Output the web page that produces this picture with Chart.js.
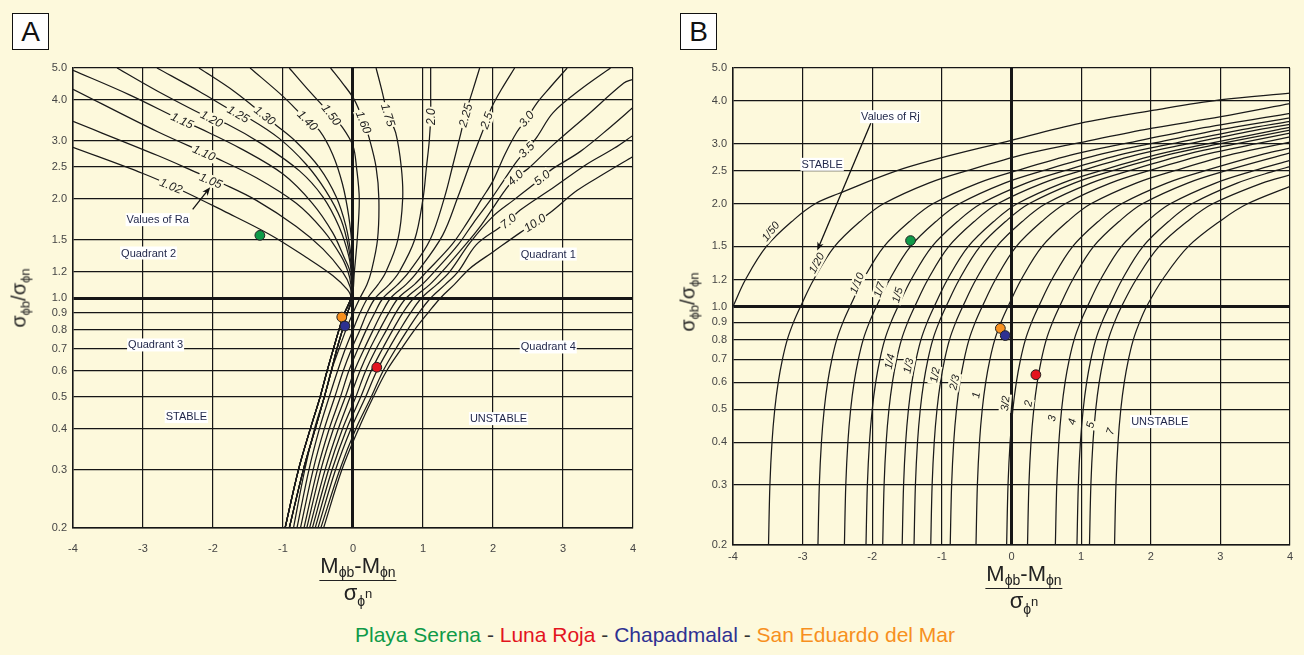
<!DOCTYPE html>
<html><head><meta charset="utf-8">
<script src="https://cdn.jsdelivr.net/npm/chart.js@4.4.0/dist/chart.umd.min.js"></script>
<style>
html,body{margin:0;padding:0;background:#fdf9dc;}
body{width:1304px;height:655px;position:relative;overflow:hidden;font-family:"Liberation Sans",Arial,sans-serif;color:#222;}
.wrap{position:absolute;}
#wrapA{left:0;top:0;width:650px;height:600px;}
#wrapB{left:660px;top:0;width:644px;height:620px;}
.tag{position:absolute;width:35px;height:35px;background:#fff;border:1.5px solid #111;font-size:28px;line-height:36px;text-align:center;color:#111;}
.ytitle{position:absolute;transform:translate(-50%,-50%) rotate(-90deg);font-size:20px;white-space:nowrap;color:#222;}
.ytitle sub{font-size:13px;vertical-align:-4px;}
.frac{position:absolute;transform:translateX(-50%);text-align:center;font-size:22px;line-height:24px;color:#222;white-space:nowrap;}
.frac .num{display:inline-block;border-bottom:1.5px solid #222;padding:0 1px 2px 1px;}
.frac .num sub{font-size:14px;vertical-align:-4px;line-height:0;}
.frac .den sub{font-size:14px;vertical-align:-6px;line-height:0;}
.frac .den sup{font-size:13px;vertical-align:2px;line-height:0;}
#legend{position:absolute;left:0;width:1310px;top:623px;text-align:center;font-size:21px;white-space:nowrap;}
</style>
</head><body>
<div class="wrap" id="wrapA"><canvas id="cA" width="650" height="600"></canvas></div>
<div class="wrap" id="wrapB"><canvas id="cB" width="644" height="620"></canvas></div>
<div class="tag" style="left:12px;top:13px;">A</div>
<div class="tag" style="left:680px;top:13px;">B</div>
<div class="ytitle" style="left:20px;top:298px;">σ<sub>ϕb</sub>/σ<sub>ϕn</sub></div>
<div class="ytitle" style="left:689px;top:302px;">σ<sub>ϕb</sub>/σ<sub>ϕn</sub></div>
<div class="frac" style="left:358px;top:554px;"><div class="num">M<sub>ϕb</sub>-M<sub>ϕn</sub></div><div class="den">σ<sub>ϕ</sub><sup>n</sup></div></div>
<div class="frac" style="left:1024px;top:562px;"><div class="num">M<sub>ϕb</sub>-M<sub>ϕn</sub></div><div class="den">σ<sub>ϕ</sub><sup>n</sup></div></div>
<div id="legend"><span style="color:#0f9a48">Playa Serena</span><span style="color:#333"> - </span><span style="color:#e3141e">Luna Roja</span><span style="color:#333"> - </span><span style="color:#2e3192">Chapadmalal</span><span style="color:#333"> - </span><span style="color:#f7901e">San Eduardo del Mar</span></div>
<script>
// ---------- shared axis values ----------
const xTickValues = [-4,-3,-2,-1,0,1,2,3,4];
const yTickValues = [0.2,0.3,0.4,0.5,0.6,0.7,0.8,0.9,1.0,1.2,1.5,2.0,2.5,3.0,4.0,5.0];

// ---------- sample sites ----------
const siteNames = ['Playa Serena','Luna Roja','Chapadmalal','San Eduardo del Mar'];
const siteColors = ['#0f9a48','#e3141e','#2e3192','#f7901e'];
const sitesA = [[-1.33,1.55],[0.34,0.616],[-0.115,0.822],[-0.16,0.875]];
const sitesB = [[-1.45,1.56],[0.35,0.631],[-0.09,0.822],[-0.16,0.863]];

// ---------- Panel A : curves of Ra ----------
const raNames = ['1.02','1.05','1.10','1.15','1.20','1.25','1.30','1.40','1.50','1.60','1.75','2.0','2.25','2.5','3.0','3.5','4.0','5.0','7.0','10.0'];
const bundleLeftA = [[-0.97,0.2],[-0.78,0.3],[-0.61,0.4],[-0.47,0.5],[-0.37,0.6],[-0.28,0.7],[-0.2,0.8],[-0.12,0.9],[-0.03,1.0]];
const bundleLeftB = [[-0.91,0.2],[-0.71,0.3],[-0.54,0.4],[-0.41,0.5],[-0.31,0.6],[-0.23,0.7],[-0.15,0.8],[-0.08,0.9],[-0.01,1.0]];
const ra102 = [...bundleLeftA,[-0.08,1.06],[-0.29,1.17],[-0.67,1.33],[-1.19,1.56],[-1.85,1.84],[-2.46,2.13],[-3.0,2.39],[-4.0,2.87]];
const ra105 = [...bundleLeftA,[-0.04,1.08],[-0.15,1.2],[-0.43,1.41],[-0.81,1.65],[-1.38,1.98],[-1.85,2.22],[-2.18,2.38],[-2.79,2.71],[-4.0,3.44]];
const ra110 = [...bundleLeftA,[-0.03,1.1],[-0.07,1.2],[-0.17,1.34],[-0.43,1.61],[-0.81,1.94],[-1.38,2.32],[-1.95,2.66],[-2.79,3.2],[-4.0,4.31]];
const ra115 = [...bundleLeftA,[-0.02,1.12],[-0.05,1.22],[-0.12,1.32],[-0.29,1.58],[-0.58,1.94],[-1.0,2.38],[-1.61,2.85],[-2.18,3.27],[-2.44,3.46],[-3.2,4.15],[-4.0,4.92]];
const ra120 = [...bundleLeftA,[-0.02,1.15],[-0.06,1.34],[-0.2,1.65],[-0.43,2.03],[-0.76,2.43],[-1.28,2.92],[-1.8,3.38],[-2.02,3.5],[-2.79,4.25],[-3.37,5.0]];
const ra125 = [...bundleLeftB,[-0.01,1.15],[-0.06,1.41],[-0.17,1.73],[-0.39,2.12],[-0.67,2.55],[-1.05,3.05],[-1.47,3.5],[-1.64,3.62],[-2.2,4.25],[-2.8,5.0]];
const ra130 = [...bundleLeftB,[-0.01,1.18],[-0.03,1.36],[-0.1,1.65],[-0.24,2.03],[-0.48,2.49],[-0.81,2.98],[-1.12,3.38],[-1.26,3.58],[-1.7,4.25],[-2.2,5.0]];
const ra140 = [...bundleLeftB,[0.0,1.2],[-0.01,1.41],[-0.06,1.77],[-0.15,2.22],[-0.29,2.73],[-0.48,3.23],[-0.65,3.46],[-1.0,4.1],[-1.47,5.0]];
const ra150 = [...bundleLeftB,[0.02,1.2],[0.06,1.5],[0.09,2.0],[0.05,2.5],[0.0,2.9],[-0.15,3.3],[-0.31,3.6],[-0.6,4.2],[-0.91,5.0]];
const ra160 = [[-0.85,0.2],[-0.69,0.3],[-0.55,0.4],[-0.41,0.5],[-0.31,0.6],[-0.2,0.7],[-0.1,0.8],[0.0,0.9],[0.1,1.0],[0.2,1.1],[0.26,1.2],[0.35,1.5],[0.37,2.0],[0.33,2.5],[0.23,3.07],[0.16,3.4],[0.02,4.0],[-0.15,4.5],[-0.32,5.0]];
const ra175 = [[-0.8,0.2],[-0.63,0.3],[-0.48,0.4],[-0.34,0.5],[-0.22,0.6],[-0.11,0.7],[0.0,0.8],[0.1,0.9],[0.21,1.0],[0.36,1.1],[0.47,1.2],[0.64,1.5],[0.71,2.0],[0.69,2.5],[0.61,3.18],[0.5,3.6],[0.41,4.3],[0.33,5.0]];
const ra200 = [[-0.75,0.2],[-0.57,0.3],[-0.41,0.4],[-0.26,0.5],[-0.14,0.6],[-0.02,0.7],[0.1,0.8],[0.2,0.9],[0.32,1.0],[0.52,1.1],[0.66,1.2],[0.88,1.5],[1.0,2.0],[1.05,2.5],[1.09,3.0],[1.11,3.56],[1.11,4.2],[1.11,5.0]];
const ra225 = [[-0.7,0.2],[-0.51,0.3],[-0.34,0.4],[-0.18,0.5],[-0.06,0.6],[0.07,0.7],[0.19,0.8],[0.31,0.9],[0.43,1.0],[0.64,1.1],[0.8,1.2],[1.1,1.5],[1.31,2.03],[1.43,2.55],[1.54,3.16],[1.6,3.59],[1.7,4.2],[1.81,5.0]];
const ra250 = [[-0.66,0.2],[-0.46,0.3],[-0.28,0.4],[-0.11,0.5],[0.02,0.6],[0.16,0.7],[0.29,0.8],[0.41,0.9],[0.54,1.0],[0.76,1.1],[0.92,1.2],[1.28,1.55],[1.5,2.03],[1.67,2.55],[1.84,3.16],[1.91,3.46],[1.98,3.79],[2.12,4.3],[2.31,5.0]];
const ra300 = [[-0.62,0.2],[-0.4,0.3],[-0.21,0.4],[-0.04,0.5],[0.1,0.6],[0.24,0.7],[0.38,0.8],[0.51,0.9],[0.65,1.0],[0.88,1.1],[1.05,1.2],[1.41,1.45],[1.62,1.68],[1.84,2.0],[2.0,2.27],[2.17,2.73],[2.34,3.19],[2.48,3.5],[2.63,3.92],[2.83,4.4],[3.06,5.0]];
const ra350 = [[-0.58,0.2],[-0.35,0.3],[-0.15,0.4],[0.04,0.5],[0.18,0.6],[0.33,0.7],[0.48,0.8],[0.61,0.9],[0.76,1.0],[0.99,1.1],[1.16,1.2],[1.5,1.45],[1.72,1.69],[1.96,1.98],[2.15,2.27],[2.34,2.6],[2.48,2.82],[2.63,3.09],[2.86,3.66],[3.25,4.3],[3.68,5.0]];
const ra400 = [[-0.54,0.2],[-0.3,0.3],[-0.09,0.4],[0.11,0.5],[0.26,0.6],[0.42,0.7],[0.57,0.8],[0.71,0.9],[0.87,1.0],[1.1,1.1],[1.27,1.2],[1.58,1.43],[1.8,1.63],[2.03,1.92],[2.17,2.12],[2.32,2.32],[2.5,2.47],[2.86,2.92],[3.34,3.58],[3.87,4.5],[4.0,4.62]];
const ra500 = [[-0.5,0.2],[-0.25,0.3],[-0.03,0.4],[0.18,0.5],[0.34,0.6],[0.51,0.7],[0.67,0.8],[0.82,0.9],[0.98,1.0],[1.2,1.1],[1.38,1.2],[1.67,1.47],[2.0,1.77],[2.29,1.98],[2.53,2.17],[2.7,2.32],[2.84,2.46],[3.25,2.79],[3.68,3.31],[4.0,3.79]];
const ra700 = [[-0.46,0.2],[-0.19,0.3],[0.04,0.4],[0.26,0.5],[0.43,0.6],[0.61,0.7],[0.78,0.8],[0.94,0.9],[1.11,1.0],[1.32,1.1],[1.5,1.2],[1.76,1.45],[2.08,1.63],[2.22,1.71],[2.39,1.85],[2.87,2.17],[3.34,2.55],[3.73,2.85],[4.0,3.12]];
const ra1000 = [[-0.42,0.2],[-0.16,0.3],[0.08,0.4],[0.29,0.5],[0.48,0.6],[0.69,0.7],[0.88,0.8],[1.07,0.9],[1.25,1.0],[1.45,1.1],[1.67,1.23],[2.0,1.38],[2.39,1.58],[2.6,1.69],[2.82,1.82],[3.2,2.12],[3.58,2.38],[4.0,2.69]];
const raCurves = [ra102,ra105,ra110,ra115,ra120,ra125,ra130,ra140,ra150,ra160,ra175,ra200,ra225,ra250,ra300,ra350,ra400,ra500,ra700,ra1000];
// where each Ra value is written on its curve (data coords) and its slant
const raLabelAt = [[-2.6,2.19],[-2.03,2.27],[-2.13,2.76],[-2.44,3.46],[-2.02,3.5],[-1.64,3.62],[-1.26,3.58],[-0.65,3.46],[-0.31,3.6],[0.15,3.42],[0.5,3.6],[1.11,3.56],[1.61,3.59],[1.91,3.46],[2.48,3.5],[2.48,2.82],[2.32,2.32],[2.7,2.32],[2.22,1.71],[2.6,1.69]];
const raLabelTilt = [22,22,24,25,27,30,38,45,52,68,72,-90,-74,-70,-50,-45,-42,-38,-38,-33];

// ---------- Panel B : curves of Rj ----------
const rjNames = ['1/50','1/20','1/10','1/7','1/5','1/4','1/3','','1/2','2/3','1','3/2','2','3','4','5','7'];
const rj1_50 = [[-4.0,1.0],[-3.82,1.2],[-3.52,1.5],[-3.12,1.8],[-2.82,2.0],[-2.49,2.14],[-1.49,2.56],[0.0,3.07],[0.98,3.44],[2.05,3.76],[2.99,4.03],[4.0,4.22]];
const rj1_20 = [[-3.49,0.2],[-3.47,0.3],[-3.44,0.4],[-3.4,0.5],[-3.35,0.6],[-3.29,0.7],[-3.22,0.8],[-3.13,0.9],[-3.03,1.0],[-2.84,1.2],[-2.54,1.5],[-2.14,1.8],[-1.84,2.0],[-1.19,2.3],[-0.64,2.5],[0.21,2.8],[0.91,3.0],[1.91,3.3],[3.01,3.6],[4.0,3.93]];
const rj1_10 = [[-2.78,0.2],[-2.76,0.3],[-2.73,0.4],[-2.69,0.5],[-2.64,0.6],[-2.58,0.7],[-2.51,0.8],[-2.42,0.9],[-2.32,1.0],[-2.13,1.2],[-1.83,1.5],[-1.43,1.8],[-1.13,2.0],[-0.48,2.3],[0.07,2.5],[0.92,2.8],[1.62,3.0],[2.62,3.3],[3.72,3.6],[4.0,3.68]];
const rj1_7 = [[-2.4,0.2],[-2.38,0.3],[-2.35,0.4],[-2.31,0.5],[-2.26,0.6],[-2.2,0.7],[-2.13,0.8],[-2.04,0.9],[-1.94,1.0],[-1.75,1.2],[-1.45,1.5],[-1.05,1.8],[-0.75,2.0],[-0.1,2.3],[0.45,2.5],[1.3,2.8],[2.0,3.0],[3.0,3.3],[4.0,3.57]];
const rj1_5 = [[-2.09,0.2],[-2.07,0.3],[-2.04,0.4],[-2.0,0.5],[-1.95,0.6],[-1.89,0.7],[-1.82,0.8],[-1.73,0.9],[-1.63,1.0],[-1.44,1.2],[-1.14,1.5],[-0.74,1.8],[-0.44,2.0],[0.21,2.3],[0.76,2.5],[1.61,2.8],[2.31,3.0],[3.31,3.3],[4.0,3.49]];
const rj1_4 = [[-1.85,0.2],[-1.83,0.3],[-1.8,0.4],[-1.76,0.5],[-1.71,0.6],[-1.65,0.7],[-1.58,0.8],[-1.49,0.9],[-1.39,1.0],[-1.2,1.2],[-0.9,1.5],[-0.5,1.8],[-0.2,2.0],[0.45,2.3],[1.0,2.5],[1.85,2.8],[2.55,3.0],[3.55,3.3],[4.0,3.42]];
const rj1_3 = [[-1.57,0.2],[-1.55,0.3],[-1.52,0.4],[-1.48,0.5],[-1.43,0.6],[-1.37,0.7],[-1.3,0.8],[-1.21,0.9],[-1.11,1.0],[-0.92,1.2],[-0.62,1.5],[-0.22,1.8],[0.08,2.0],[0.73,2.3],[1.28,2.5],[2.13,2.8],[2.83,3.0],[3.83,3.3],[4.0,3.35]];
const rjUnlabelled = [[-1.4,0.2],[-1.38,0.3],[-1.35,0.4],[-1.31,0.5],[-1.26,0.6],[-1.2,0.7],[-1.13,0.8],[-1.04,0.9],[-0.94,1.0],[-0.75,1.2],[-0.45,1.5],[-0.05,1.8],[0.25,2.0],[0.9,2.3],[1.45,2.5],[2.3,2.8],[3.0,3.0],[4.0,3.29]];
const rj1_2 = [[-1.16,0.2],[-1.14,0.3],[-1.11,0.4],[-1.07,0.5],[-1.02,0.6],[-0.96,0.7],[-0.89,0.8],[-0.8,0.9],[-0.7,1.0],[-0.51,1.2],[-0.21,1.5],[0.19,1.8],[0.49,2.0],[1.14,2.3],[1.69,2.5],[2.54,2.8],[3.24,3.0],[4.0,3.22]];
const rj2_3 = [[-0.88,0.2],[-0.86,0.3],[-0.83,0.4],[-0.79,0.5],[-0.74,0.6],[-0.68,0.7],[-0.61,0.8],[-0.52,0.9],[-0.42,1.0],[-0.23,1.2],[0.07,1.5],[0.47,1.8],[0.77,2.0],[1.42,2.3],[1.97,2.5],[2.82,2.8],[3.52,3.0],[4.0,3.14]];
const rj1 = [[-0.51,0.2],[-0.49,0.3],[-0.46,0.4],[-0.42,0.5],[-0.37,0.6],[-0.31,0.7],[-0.24,0.8],[-0.15,0.9],[-0.05,1.0],[0.14,1.2],[0.44,1.5],[0.84,1.8],[1.14,2.0],[1.79,2.3],[2.34,2.5],[3.19,2.8],[4.0,3.03]];
const rj3_2 = [[-0.07,0.2],[-0.05,0.3],[-0.02,0.4],[0.02,0.5],[0.07,0.6],[0.13,0.7],[0.2,0.8],[0.29,0.9],[0.39,1.0],[0.58,1.2],[0.88,1.5],[1.28,1.8],[1.58,2.0],[2.23,2.3],[2.78,2.5],[3.63,2.8],[4.0,2.91]];
const rj2 = [[0.23,0.2],[0.25,0.3],[0.28,0.4],[0.32,0.5],[0.37,0.6],[0.43,0.7],[0.5,0.8],[0.59,0.9],[0.69,1.0],[0.88,1.2],[1.18,1.5],[1.58,1.8],[1.88,2.0],[2.53,2.3],[3.08,2.5],[4.0,2.82]];
const rj3 = [[0.63,0.2],[0.65,0.3],[0.68,0.4],[0.72,0.5],[0.77,0.6],[0.83,0.7],[0.9,0.8],[0.99,0.9],[1.09,1.0],[1.28,1.2],[1.58,1.5],[1.98,1.8],[2.28,2.0],[2.93,2.3],[3.48,2.5],[4.0,2.68]];
const rj4 = [[0.94,0.2],[0.96,0.3],[0.99,0.4],[1.03,0.5],[1.08,0.6],[1.14,0.7],[1.21,0.8],[1.3,0.9],[1.4,1.0],[1.59,1.2],[1.89,1.5],[2.29,1.8],[2.59,2.0],[3.24,2.3],[3.79,2.5],[4.0,2.57]];
const rj5 = [[1.12,0.2],[1.14,0.3],[1.17,0.4],[1.21,0.5],[1.26,0.6],[1.32,0.7],[1.39,0.8],[1.48,0.9],[1.58,1.0],[1.79,1.2],[2.12,1.5],[2.56,1.8],[2.89,2.0],[3.6,2.3],[4.0,2.43]];
const rj7 = [[1.48,0.2],[1.5,0.3],[1.53,0.4],[1.57,0.5],[1.62,0.6],[1.68,0.7],[1.75,0.8],[1.84,0.9],[1.94,1.0],[2.17,1.2],[2.54,1.5],[3.03,1.8],[3.39,2.0],[4.0,2.25]];
const rjCurves = [rj1_50,rj1_20,rj1_10,rj1_7,rj1_5,rj1_4,rj1_3,rjUnlabelled,rj1_2,rj2_3,rj1,rj3_2,rj2,rj3,rj4,rj5,rj7];
const rjLabelAt = [[-3.46,1.66],[-2.8,1.34],[-2.22,1.17],[-1.9,1.12],[-1.64,1.08],[-1.75,0.69],[-1.48,0.67],null,[-1.1,0.63],[-0.82,0.6],[-0.51,0.55],[-0.09,0.52],[0.24,0.52],[0.58,0.47],[0.87,0.46],[1.13,0.45],[1.42,0.43]];
const rjLabelTilt = [-52,-62,-68,-72,-74,-78,-78,0,-80,-78,-80,-85,-80,-78,-76,-76,-72];

// ---------- free texts and arrows ----------
const notesA = [['Values of Ra',-2.79,1.73],['Quadrant 2',-2.92,1.37],['Quadrant 1',2.79,1.36],['Quadrant 3',-2.82,0.72],['Quadrant 4',2.79,0.71],['STABLE',-2.38,0.436],['UNSTABLE',2.08,0.43]];
const arrowsA = [[[-2.29,1.86],[-2.04,2.17]]];
const notesB = [['Values of Rj',-1.74,3.6],['STABLE',-2.72,2.61],['UNSTABLE',2.13,0.46]];
const arrowsB = [[[-2.02,3.45],[-2.79,1.46]]];

// ---------- drawing ----------
const BG = '#fdf9dc';
const FONT = '"Liberation Sans", Arial, sans-serif';

function boxedText(ctx, text, px, py, angle, font, color, bg, padX, padY, h) {
  ctx.save();
  ctx.translate(px, py);
  ctx.rotate(angle * Math.PI / 180);
  ctx.font = font;
  const w = ctx.measureText(text).width;
  ctx.fillStyle = bg;
  ctx.fillRect(-w / 2 - padX, -h / 2 - padY, w + 2 * padX, h + 2 * padY);
  ctx.fillStyle = color;
  ctx.textAlign = 'center';
  ctx.textBaseline = 'middle';
  ctx.fillText(text, 0, 0.5);
  ctx.restore();
}

function makeOverlay(names, labelAt, tilts, notes, arrows, labelFont) {
  return {
    id: 'overlay',
    afterDatasetsDraw(chart) {
      const ctx = chart.ctx, sx = chart.scales.x, sy = chart.scales.y;
      ctx.save();
      names.forEach((t, i) => {
        if (!t || !labelAt[i]) return;
        boxedText(ctx, t, sx.getPixelForValue(labelAt[i][0]), sy.getPixelForValue(labelAt[i][1]), tilts[i], labelFont, '#222', BG, 1.5, 0.5, 11);
      });
      arrows.forEach(a => {
        const x1 = sx.getPixelForValue(a[0][0]), y1 = sy.getPixelForValue(a[0][1]);
        const x2 = sx.getPixelForValue(a[1][0]), y2 = sy.getPixelForValue(a[1][1]);
        const ang = Math.atan2(y2 - y1, x2 - x1);
        ctx.strokeStyle = '#111'; ctx.lineWidth = 1.3;
        ctx.beginPath(); ctx.moveTo(x1, y1); ctx.lineTo(x2 - 5 * Math.cos(ang), y2 - 5 * Math.sin(ang)); ctx.stroke();
        ctx.fillStyle = '#111';
        ctx.beginPath();
        ctx.moveTo(x2, y2);
        ctx.lineTo(x2 - 9 * Math.cos(ang - 0.38), y2 - 9 * Math.sin(ang - 0.38));
        ctx.lineTo(x2 - 6 * Math.cos(ang), y2 - 6 * Math.sin(ang));
        ctx.lineTo(x2 - 9 * Math.cos(ang + 0.38), y2 - 9 * Math.sin(ang + 0.38));
        ctx.closePath(); ctx.fill();
      });
      notes.forEach(n => {
        boxedText(ctx, n[0], sx.getPixelForValue(n[1]), sy.getPixelForValue(n[2]), 0, '11px ' + FONT, '#1f2548', '#ffffff', 1, 1, 11);
      });
      ctx.restore();
    }
  };
}

function buildChart(canvasId, curves, sites, axisH, xPad, rightPad, overlay) {
  const datasets = [];
  curves.forEach(c => datasets.push({
    data: c.map(p => ({x: p[0], y: p[1]})),
    showLine: true, borderColor: '#1a1a1a', borderWidth: 1.25,
    pointRadius: 0, pointHoverRadius: 0, tension: 0.35, fill: false, order: 2
  }));
  sites.forEach((s, i) => datasets.push({
    label: siteNames[i],
    data: [{x: s[0], y: s[1]}],
    showLine: false, pointRadius: 4.9, pointHoverRadius: 4.9,
    backgroundColor: siteColors[i], borderColor: '#222', borderWidth: 1, order: 0
  }));
  return new Chart(document.getElementById(canvasId), {
    type: 'scatter',
    data: {datasets},
    options: {
      responsive: false, animation: false, devicePixelRatio: 1,
      layout: {padding: {left: 0, top: 68, right: rightPad, bottom: 0}},
      plugins: {legend: {display: false}, tooltip: {enabled: false}},
      scales: {
        x: {
          type: 'linear', min: -4, max: 4,
          afterFit(s) { s.height = axisH; },
          afterBuildTicks(s) { s.ticks = xTickValues.map(v => ({value: v})); },
          ticks: {color: '#444', font: {size: 11, family: FONT}, padding: xPad, autoSkip: false, maxRotation: 0, callback: v => String(v)},
          grid: {color: '#161616', lineWidth: c => (c.tick && c.tick.value === 0) ? 3 : 1.2, drawTicks: false},
          border: {display: true, color: '#161616', width: 1.5}
        },
        y: {
          type: 'logarithmic', min: 0.2, max: 5,
          afterFit(s) { s.width = 73; },
          afterBuildTicks(s) { s.ticks = yTickValues.map(v => ({value: v})); },
          ticks: {color: '#444', font: {size: 11, family: FONT}, padding: 6, autoSkip: false, callback: v => Number(v).toFixed(1)},
          grid: {color: '#161616', lineWidth: c => (c.tick && c.tick.value === 1) ? 3 : 1.2, drawTicks: false},
          border: {display: true, color: '#161616', width: 1.5}
        }
      }
    },
    plugins: [overlay]
  });
}

buildChart('cA', raCurves, sitesA, 72, 14, 16, makeOverlay(raNames, raLabelAt, raLabelTilt, notesA, arrowsA, 'italic 12px ' + FONT));
buildChart('cB', rjCurves, sitesB, 75, 5, 14, makeOverlay(rjNames, rjLabelAt, rjLabelTilt, notesB, arrowsB, 'italic 11px ' + FONT));
</script>
</body></html>
